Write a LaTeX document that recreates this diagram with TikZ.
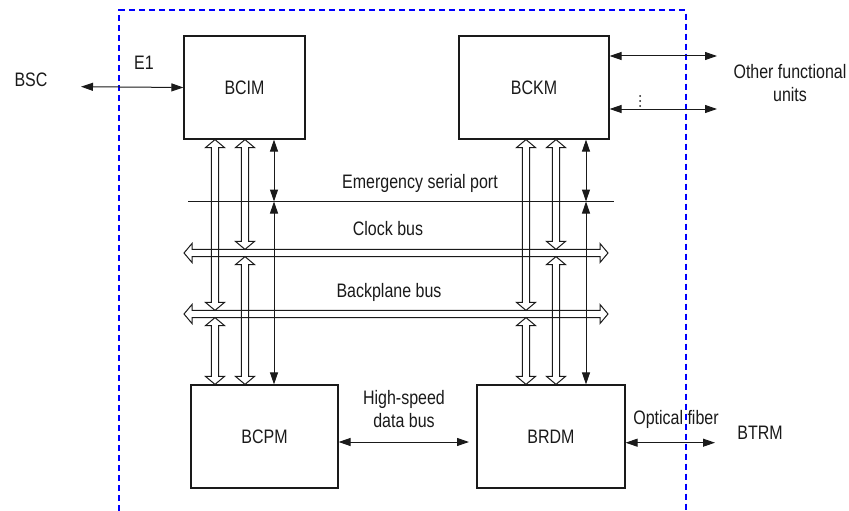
\documentclass[tikz,border=0pt]{standalone}
\usepackage{fontspec}
\setmainfont{Liberation Sans}[FakeStretch=0.82]
\usetikzlibrary{calc,arrows.meta}
\definecolor{ink}{HTML}{1A1A1A}
\definecolor{frameblue}{HTML}{0000FF}
\newcommand\lblfont{\fontsize{19.5}{23}\selectfont}
\newcommand\hollow[2]{%
  \path (#1) coordinate (hA) (#2) coordinate (hB);
  \path ($(hA)!8pt!(hB)$) coordinate (hP) ($(hB)!8pt!(hA)$) coordinate (hQ);
  \draw[hollowline] (hA) -- ($(hP)!9.5pt!90:(hB)$) -- ($(hP)!3.6pt!90:(hB)$)
    -- ($(hQ)!3.6pt!-90:(hA)$) -- ($(hQ)!9.5pt!-90:(hA)$) -- (hB)
    -- ($(hQ)!9.5pt!90:(hA)$) -- ($(hQ)!3.6pt!90:(hA)$)
    -- ($(hP)!3.6pt!-90:(hB)$) -- ($(hP)!9.5pt!-90:(hB)$) -- cycle;}
\begin{document}
\begin{tikzpicture}[x=1pt,y=-1pt,
  box/.style={draw=ink, line width=1.2pt, inner sep=0pt, text=ink, font=\lblfont},
  lbl/.style={text=ink, font=\lblfont, inner sep=0pt, align=center},
  thin/.style={draw=ink, line width=1pt, {Triangle[length=12pt,width=8pt]}-{Triangle[length=12pt,width=8pt]}},
  hollowline/.style={draw=ink, line width=1pt, line join=miter},
  plain/.style={draw=ink, line width=1pt},
  frame/.style={draw=frameblue, line width=2pt, dash pattern=on 6pt off 4pt}]
\useasboundingbox (0,0) rectangle (849,511);
\fill[white] (0,0) rectangle (849,511);

% frame
\draw[frame] (119.3,511) -- (119.3,10.5) -- (685.7,10.5) -- (685.7,511);

% boxes
\node[box, minimum width=121pt, minimum height=103pt] (BCIM) at (244.5,87.5) {BCIM};
\node[box, minimum width=150pt, minimum height=103pt] (BCKM) at (534,87.5) {BCKM};
\node[box, minimum width=147pt, minimum height=103pt] (BCPM) at (264.5,436.5) {BCPM};
\node[box, minimum width=148pt, minimum height=103pt] (BRDM) at (551,436.5) {BRDM};

% labels
\node[lbl] (bsc) at (31,80) {BSC};
\node[lbl] (e1) at (144,63) {E1};
\node[lbl] (ofu) at (790,83) {Other functional\\units};
\node[lbl] (esp) at (420,183) {Emergency serial port};
\node[lbl] (clk) at (388,229) {Clock bus};
\node[lbl] (bpb) at (389,292) {Backplane bus};
\node[lbl] (hsd) at (404,409) {High-speed\\data bus};
\node[lbl] (opt) at (676,419) {Optical fiber};
\node[lbl] (btrm) at (760,433) {BTRM};

% coordinates
\coordinate (bscEnd) at (81,86.7);
\coordinate (ofu1) at (717,56);
\coordinate (ofu2) at (717,109);
\coordinate (hsEnd) at (469,442);
\coordinate (optEnd) at (715,442.7);
\coordinate (esL) at (188,201.5);
\coordinate (esR) at (614,201.5);
\coordinate (cbL) at (184,253);
\coordinate (cbR) at (608,253);
\coordinate (bpL) at (184,314);
\coordinate (bpR) at (608,314);
\coordinate (cbT) at (0,249.4);
\coordinate (cbB) at (0,256.6);
\coordinate (bpT) at (0,310.4);
\coordinate (bpB) at (0,317.6);
\coordinate (c1) at (215,0);
\coordinate (c2) at (245,0);
\coordinate (c3) at (274,0);
\coordinate (c4) at (526,0);
\coordinate (c5) at (556,0);
\coordinate (c6) at (586,0);

% external links
\draw[thin] (bscEnd) -- (BCIM.west);
\draw[thin] (BCKM.east |- ofu1) -- (ofu1);
\draw[thin] (BCKM.east |- ofu2) -- (ofu2);
\fill[ink] (640,96) circle (1) (640,101) circle (1) (640,106) circle (1);
\draw[thin] (BCPM.east |- hsEnd) -- (hsEnd);
\draw[thin] (BRDM.east |- optEnd) -- (optEnd);

% emergency serial port
\draw[plain] (esL) -- (esR);

% buses
\hollow{cbL}{cbR}
\hollow{bpL}{bpR}

% left column
\hollow{c1 |- BCIM.south}{c1 |- bpT}
\hollow{c1 |- bpB}{c1 |- BCPM.north}
\hollow{c2 |- BCIM.south}{c2 |- cbT}
\hollow{c2 |- cbB}{c2 |- BCPM.north}
\draw[thin] (c3 |- BCIM.south) -- (c3 |- esL);
\draw[thin] (c3 |- esL) -- (c3 |- BCPM.north);

% right column
\hollow{c4 |- BCKM.south}{c4 |- bpT}
\hollow{c4 |- bpB}{c4 |- BRDM.north}
\hollow{c5 |- BCKM.south}{c5 |- cbT}
\hollow{c5 |- cbB}{c5 |- BRDM.north}
\draw[thin] (c6 |- BCKM.south) -- (c6 |- esL);
\draw[thin] (c6 |- esL) -- (c6 |- BRDM.north);
\end{tikzpicture}
\end{document}
